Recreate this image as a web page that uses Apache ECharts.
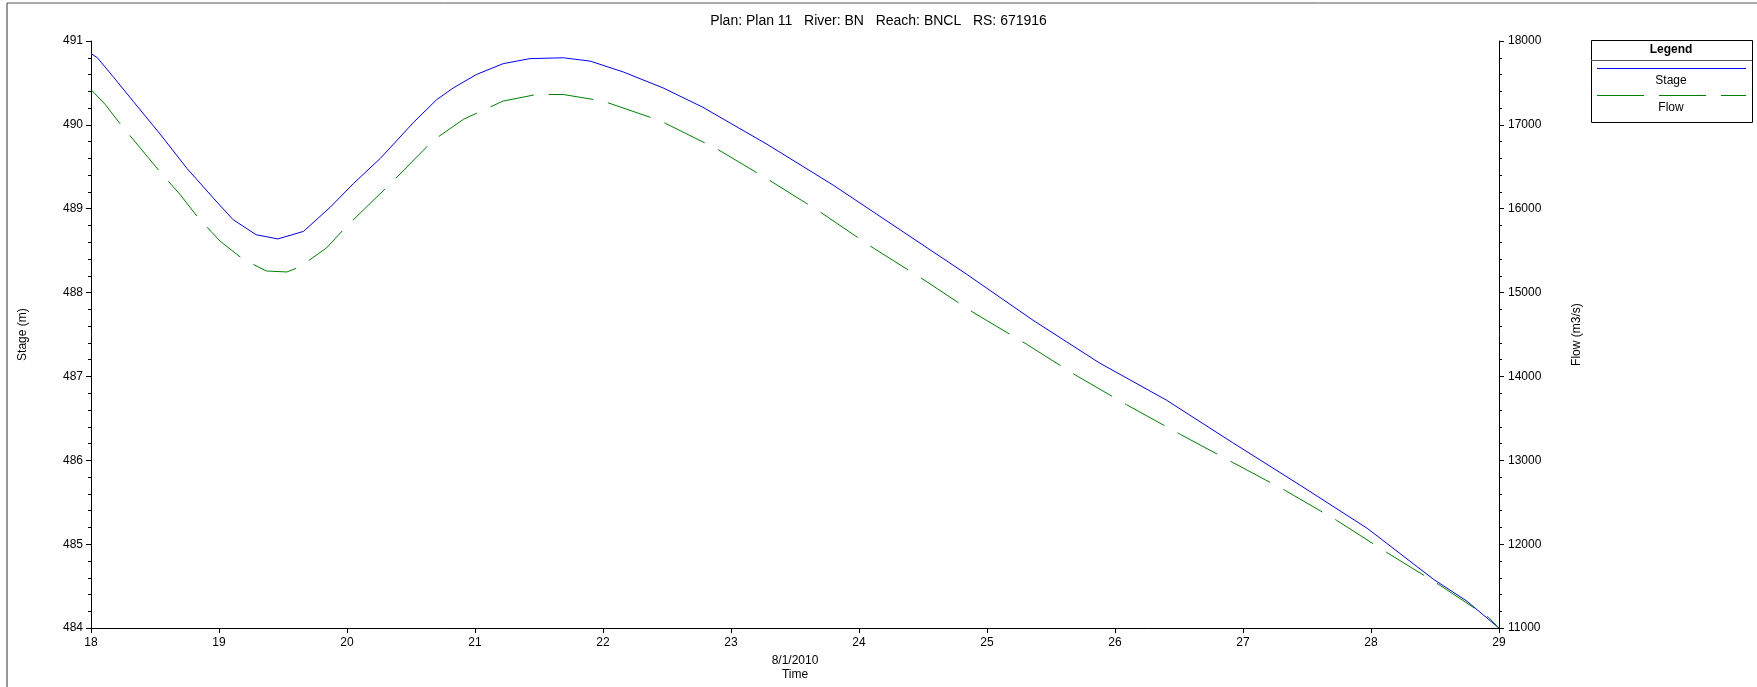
<!DOCTYPE html>
<html>
<head>
<meta charset="utf-8">
<title>Stage and Flow</title>
<script src="https://cdn.jsdelivr.net/npm/echarts@6/dist/echarts.min.js"></script>
<style>
  html, body { margin: 0; padding: 0; background: #fff; }
  #main { width: 1757px; height: 687px; }
</style>
</head>
<body>
<div id="main"></div>
<script>
// time in days (8/1/2010 axis)
var stageTime = [18.00, 18.05, 18.17, 18.33, 18.54, 18.75, 18.96, 19.11, 19.29, 19.46,
  19.66, 19.87, 20.05, 20.26, 20.52, 20.70, 20.83, 21.01, 21.22, 21.43,
  21.69, 21.90, 22.16, 22.47, 22.78, 23.28, 23.80, 24.32, 24.84, 25.36,
  25.88, 26.40, 26.92, 27.45, 27.97, 28.49, 28.75, 29.00];
var stageValues = [490.85, 490.80, 490.58, 490.28, 489.89, 489.48, 489.12, 488.87, 488.69, 488.64,
  488.73, 489.02, 489.30, 489.60, 490.03, 490.30, 490.44, 490.60, 490.73, 490.79,
  490.80, 490.76, 490.63, 490.44, 490.21, 489.77, 489.28, 488.75, 488.22, 487.67,
  487.16, 486.72, 486.21, 485.70, 485.19, 484.58, 484.32, 484.00];

var flowTime = [18.00, 18.11, 18.23, 18.38, 18.53, 18.70, 18.84, 19.01, 19.19, 19.37,
  19.53, 19.63, 19.84, 19.99, 20.34, 20.67, 20.91, 21.22, 21.48, 21.69,
  22.00, 22.45, 22.89, 23.28, 23.70, 24.09, 24.50, 24.89, 25.31, 25.69,
  26.09, 26.51, 26.92, 27.33, 27.73, 28.12, 28.53, 28.92, 29.00];
var flowValues = [17420, 17245, 17008, 16733, 16457, 16162, 15887, 15612, 15395, 15258,
  15246, 15305, 15533, 15780, 16300, 16811, 17067, 17284, 17362, 17362,
  17284, 17047, 16713, 16359, 15958, 15553, 15159, 14766, 14384, 14018,
  13664, 13310, 12975, 12641, 12286, 11905, 11519, 11126, 11000];

var xTicks = [18, 29, 1];       // min, max, interval
var stageTicks = [484, 491, 1];
var flowTicks = [11000, 18000, 1000];

function pairs(t, v) {
  return t.map(function (x, i) { return [x, v[i]]; });
}

var FONT = "'Liberation Sans', Arial, sans-serif";
var chart = echarts.init(document.getElementById('main'));

var yAxisCommon = {
  type: 'value',
  splitLine: { show: false },
  axisLine: { show: true, lineStyle: { color: '#000', width: 1 } },
  axisTick: { show: true, length: 5, lineStyle: { color: '#000' } },
  minorTick: { show: true, splitNumber: 5, length: 3, lineStyle: { color: '#000' } },
  axisLabel: { color: '#000', fontSize: 12, fontFamily: FONT, formatter: function (v) { return String(v); } },
  nameLocation: 'middle',
  nameTextStyle: { color: '#000', fontSize: 12, fontFamily: FONT }
};

var option = {
  animation: false,
  backgroundColor: '#fff',
  title: {
    text: 'Plan: Plan 11   River: BN   Reach: BNCL   RS: 671916',
    left: 'center',
    top: 9,
    textStyle: { color: '#000', fontSize: 14, fontWeight: 'normal', fontFamily: FONT }
  },
  grid: { left: 91, right: 258, top: 41, bottom: 53 },
  xAxis: {
    type: 'value',
    min: xTicks[0],
    max: xTicks[1],
    interval: xTicks[2],
    splitLine: { show: false },
    axisLine: { lineStyle: { color: '#000' } },
    axisTick: { length: 5, lineStyle: { color: '#000' } },
    axisLabel: { color: '#000', fontSize: 12, fontFamily: FONT, margin: 9 },
    name: '8/1/2010\nTime',
    nameLocation: 'middle',
    nameGap: 22,
    nameTextStyle: { color: '#000', fontSize: 12, fontFamily: FONT, lineHeight: 14 }
  },
  yAxis: [
    Object.assign({}, yAxisCommon, {
      position: 'left',
      min: stageTicks[0], max: stageTicks[1], interval: stageTicks[2],
      name: 'Stage (m)',
      nameGap: 62,
      axisLabel: Object.assign({}, yAxisCommon.axisLabel, { margin: 8 })
    }),
    Object.assign({}, yAxisCommon, {
      position: 'right',
      min: flowTicks[0], max: flowTicks[1], interval: flowTicks[2],
      name: 'Flow (m3/s)',
      nameGap: 72,
      axisLabel: Object.assign({}, yAxisCommon.axisLabel, { margin: 9 })
    })
  ],
  series: [
    {
      name: 'Stage',
      type: 'line',
      yAxisIndex: 0,
      showSymbol: false,
      data: pairs(stageTime, stageValues),
      lineStyle: { color: '#0000ff', width: 1 }
    },
    {
      name: 'Flow',
      type: 'line',
      yAxisIndex: 1,
      showSymbol: false,
      data: pairs(flowTime, flowValues),
      lineStyle: { color: '#008000', width: 1, type: [45, 15] }
    }
  ],
  graphic: [
    // outer frame
    { type: 'line', shape: { x1: 7, y1: 3, x2: 7, y2: 687 }, style: { stroke: '#333', lineWidth: 1 } },
    { type: 'line', shape: { x1: 7, y1: 3, x2: 1757, y2: 3 }, style: { stroke: '#555', lineWidth: 1 } },
    // legend box
    { type: 'rect', shape: { x: 1591.5, y: 40.5, width: 161, height: 82 }, style: { fill: '#fff', stroke: '#000', lineWidth: 1 } },
    { type: 'line', shape: { x1: 1591, y1: 60.5, x2: 1752, y2: 60.5 }, style: { stroke: '#555', lineWidth: 1 } },
    { type: 'text', x: 1671, y: 50, style: { text: 'Legend', fill: '#000', font: 'bold 12px ' + FONT, align: 'center', verticalAlign: 'middle' } },
    { type: 'line', shape: { x1: 1597, y1: 68.5, x2: 1746, y2: 68.5 }, style: { stroke: '#0000ff', lineWidth: 1 } },
    { type: 'text', x: 1671, y: 81, style: { text: 'Stage', fill: '#000', font: '12px ' + FONT, align: 'center', verticalAlign: 'middle' } },
    { type: 'line', shape: { x1: 1597, y1: 95.5, x2: 1746, y2: 95.5 }, style: { stroke: '#008000', lineWidth: 1, lineDash: [47, 15] } },
    { type: 'text', x: 1671, y: 108, style: { text: 'Flow', fill: '#000', font: '12px ' + FONT, align: 'center', verticalAlign: 'middle' } }
  ]
};

chart.setOption(option);
</script>
</body>
</html>
